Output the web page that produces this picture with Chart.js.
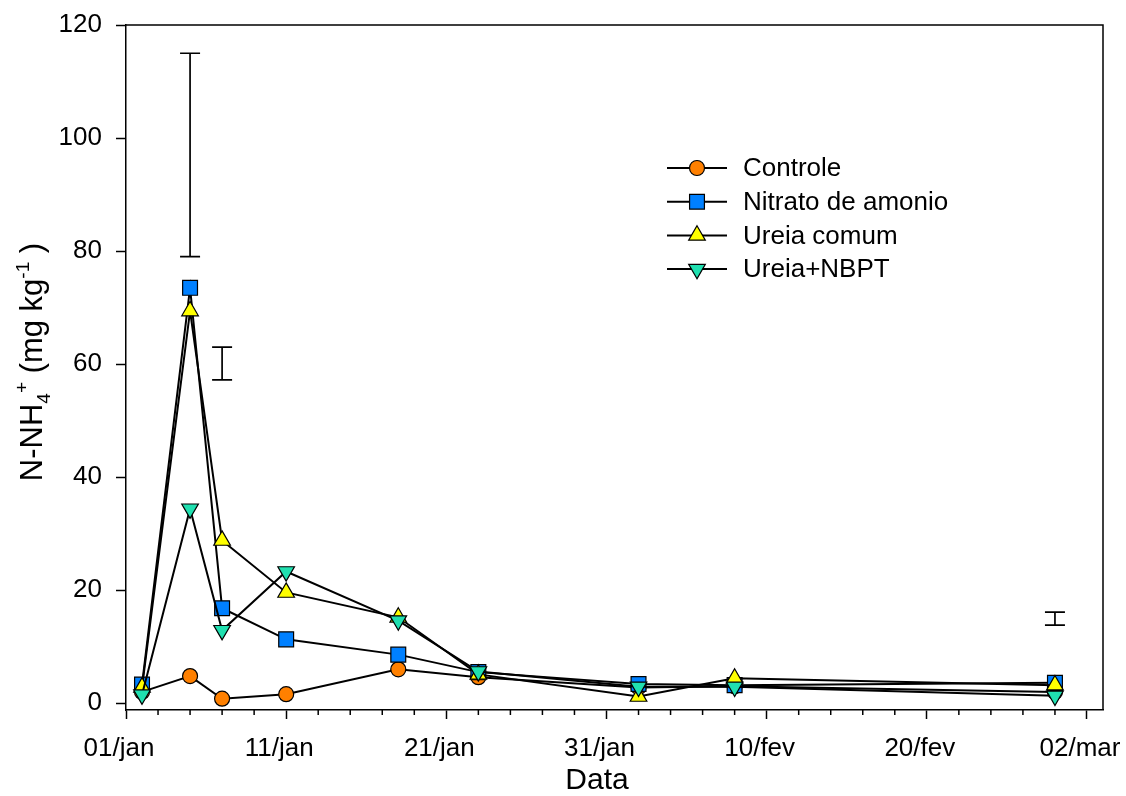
<!DOCTYPE html>
<html>
<head>
<meta charset="utf-8">
<script src="https://cdn.jsdelivr.net/npm/chart.js@4/dist/chart.umd.min.js"></script>
<style>
  html, body { margin: 0; padding: 0; background: #fff; }
  #wrap { width: 1126px; height: 796px; position: relative; }
</style>
</head>
<body>
<div id="wrap"><canvas id="chart"></canvas></div>
<script>
// days after 01/jan
const days = [1, 4, 6, 10, 17, 22, 32, 38, 58];
const controle = [2.0, 4.8, 0.8, 1.6, 6.0, 4.6, 2.8, 3.0, 2.0];
const nitrato = [3.3, 73.5, 16.8, 11.3, 8.6, 5.5, 3.4, 3.2, 3.6];
const ureia = [2.8, 69.4, 28.8, 19.6, 15.2, 5.1, 1.2, 4.4, 3.2];
const nbpt = [1.5, 34.4, 12.9, 23.3, 14.6, 5.6, 2.9, 2.9, 1.3];

// LSD bars
const lsdDays = [4, 6, 58];
const lsdLow = [79, 57.2, 13.8];
const lsdHigh = [115, 63, 16.1];

const xTickDays = [0, 10, 20, 30, 40, 50, 60];
const xTickLabels = ["01/jan", "11/jan", "21/jan", "31/jan", "10/fev", "20/fev", "02/mar"];
const yTicks = [0, 20, 40, 60, 80, 100, 120];

const FONT = "'Liberation Sans', Arial, sans-serif";
Chart.defaults.font.family = FONT;
Chart.defaults.color = "#000";

const minorDays = [];
for (let d = 0; d <= 60; d += 2) minorDays.push(d);

const toXY = (vals) => vals.map((v, i) => ({ x: days[i], y: v }));

const series = [
  { label: "Controle", data: controle, color: "#ff8000", style: "circle", r: 7.5, rot: 0 },
  { label: "Nitrato de amonio", data: nitrato, color: "#0080ff", style: "rect", r: 10.5, rot: 0 },
  { label: "Ureia comum", data: ureia, color: "#ffff00", style: "triangle", r: 9.6, rot: 0 },
  { label: "Ureia+NBPT", data: nbpt, color: "#20e0b0", style: "triangle", r: 9.6, rot: 180 },
];

function drawMarker(ctx, s, x, y) {
  ctx.save();
  ctx.fillStyle = s.color;
  ctx.strokeStyle = "#000";
  ctx.lineWidth = 1.2;
  Chart.helpers.drawPoint(ctx, { pointStyle: s.style, radius: s.r, rotation: s.rot, borderWidth: 1.2 }, x, y);
  ctx.restore();
}

const extras = {
  id: "extras",
  afterDraw(chart) {
    const { ctx, chartArea: a, scales } = chart;
    const x = scales.x, y = scales.y;
    ctx.save();
    ctx.strokeStyle = "#000";
    ctx.lineWidth = 1.5;

    // top and right frame
    ctx.beginPath();
    ctx.moveTo(a.left, a.top);
    ctx.lineTo(a.right, a.top);
    ctx.lineTo(a.right, a.bottom);
    ctx.stroke();

    // minor x ticks
    x.ticks.forEach((t) => {
      if (xTickDays.indexOf(t.value) >= 0) return;
      const px = x.getPixelForValue(t.value);
      ctx.beginPath();
      ctx.moveTo(px, a.bottom);
      ctx.lineTo(px, a.bottom + 5);
      ctx.stroke();
    });

    // LSD bars
    ctx.lineWidth = 1.7;
    lsdDays.forEach((d, i) => {
      const px = x.getPixelForValue(d);
      const p1 = y.getPixelForValue(lsdLow[i]);
      const p2 = y.getPixelForValue(lsdHigh[i]);
      ctx.beginPath();
      ctx.moveTo(px, p1); ctx.lineTo(px, p2);
      ctx.moveTo(px - 10, p1); ctx.lineTo(px + 10, p1);
      ctx.moveTo(px - 10, p2); ctx.lineTo(px + 10, p2);
      ctx.stroke();
    });

    // legend
    ctx.font = "26px " + FONT;
    ctx.textBaseline = "middle";
    ctx.textAlign = "left";
    series.forEach((s, i) => {
      const ly = 168 + i * 33.7;
      ctx.lineWidth = 2;
      ctx.beginPath();
      ctx.moveTo(667, ly); ctx.lineTo(727, ly);
      ctx.stroke();
      drawMarker(ctx, s, 697, ly);
      ctx.fillStyle = "#000";
      ctx.fillText(s.label, 743, ly + 1);
    });

    // x title
    ctx.font = "30px " + FONT;
    ctx.textAlign = "center";
    ctx.textBaseline = "alphabetic";
    ctx.fillText("Data", 597, 789);

    // y title with sub/superscripts
    const big = "31px " + FONT, small = "19px " + FONT;
    const parts = [
      { t: "N-NH", f: big, dy: 0 },
      { t: "4", f: small, dy: 8 },
      { t: "+", f: small, dy: -14 },
      { t: " (mg kg", f: big, dy: 0 },
      { t: "-1", f: small, dy: -13 },
      { t: " )", f: big, dy: 0 },
    ];
    let total = 0;
    parts.forEach((p) => { ctx.font = p.f; p.w = ctx.measureText(p.t).width; total += p.w; });
    ctx.translate(42, 362);
    ctx.rotate(-Math.PI / 2);
    ctx.textAlign = "left";
    let cx = -total / 2;
    parts.forEach((p) => {
      ctx.font = p.f;
      ctx.fillText(p.t, cx, p.dy);
      cx += p.w;
    });
    ctx.restore();
  },
};

new Chart(document.getElementById("chart"), {
  type: "line",
  data: {
    datasets: series.map((s, i) => ({
      label: s.label,
      data: toXY(s.data),
      borderColor: "#000",
      borderWidth: 2,
      backgroundColor: s.color,
      pointStyle: s.style,
      pointRadius: s.r,
      pointRotation: s.rot,
      pointBackgroundColor: s.color,
      pointBorderColor: "#000",
      pointBorderWidth: 1.2,
      tension: 0,
      fill: false,
      order: series.length - i,
    })),
  },
  options: {
    responsive: true,
    maintainAspectRatio: false,
    animation: false,
    layout: { padding: { top: 25, right: 23, bottom: 0, left: 0 } },
    plugins: { legend: { display: false }, tooltip: { enabled: false } },
    scales: {
      x: {
        type: "linear",
        min: 0,
        max: 61,
        afterBuildTicks: (s) => { s.ticks = minorDays.map((v) => ({ value: v })); },
        afterFit: (s) => { s.height = 86; s.paddingLeft = 0; s.paddingRight = 0; },
        border: { color: "#000", width: 1.5 },
        grid: {
          drawOnChartArea: false,
          tickLength: 9,
          tickWidth: 1.5,
          tickColor: (c) => (c.tick && xTickDays.indexOf(c.tick.value) >= 0 ? "#000" : "rgba(0,0,0,0)"),
        },
        ticks: {
          autoSkip: false,
          maxRotation: 0,
          padding: 14,
          labelOffset: -7,
          font: { size: 26 },
          callback: (v) => {
            const i = xTickDays.indexOf(v);
            return i >= 0 ? xTickLabels[i] : "";
          },
        },
      },
      y: {
        type: "linear",
        min: -1.2,
        max: 120,
        afterBuildTicks: (s) => { s.ticks = yTicks.map((v) => ({ value: v })); },
        afterFit: (s) => { s.width = 126; s.paddingTop = 0; s.paddingBottom = 0; },
        border: { color: "#000", width: 1.5 },
        grid: { drawOnChartArea: false, tickLength: 10, tickWidth: 1.5, tickColor: "#000" },
        ticks: { padding: 14, font: { size: 26 } },
      },
    },
  },
  plugins: [extras],
});
</script>
</body>
</html>
